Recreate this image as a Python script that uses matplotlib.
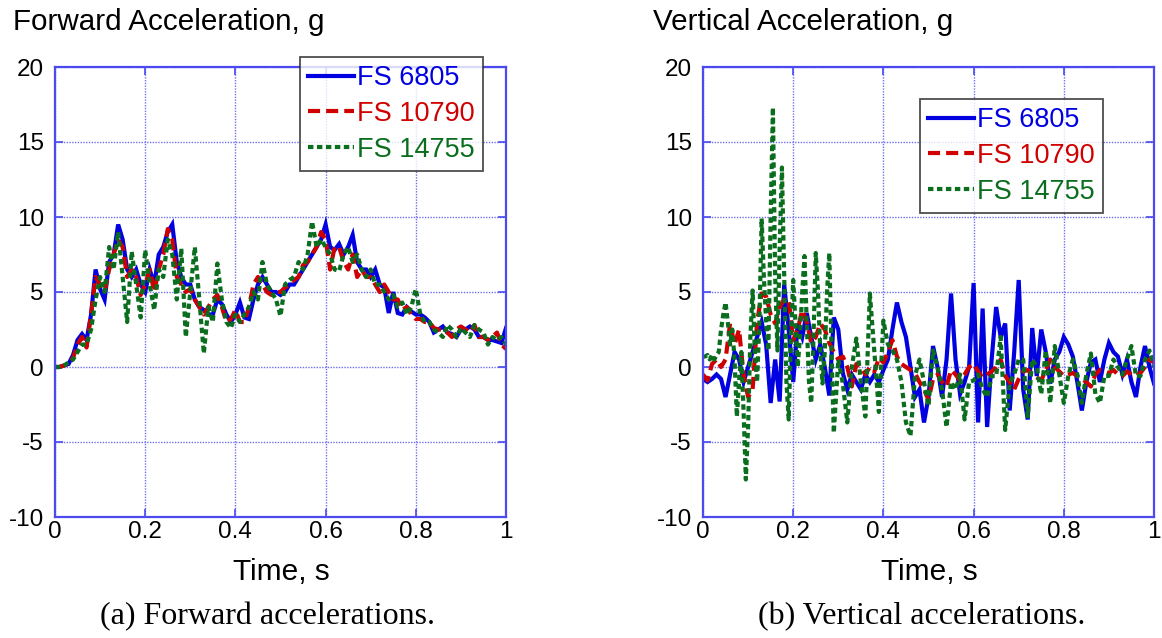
import numpy as np
import matplotlib
matplotlib.use("Agg")
import matplotlib.pyplot as plt

# ---------------- data ----------------
t = np.round(np.arange(0, 1.0001, 0.01), 3)

fwd_6805 = [0, 0, 0.1, 0.2, 0.8, 1.8, 2.2, 1.8, 3.5, 6.5,
            5.2, 4.5, 7.0, 7.5, 9.5, 8.5, 6.5, 6.0, 6.5, 5.5,
            5.0, 6.5, 5.5, 7.5, 8.0, 9.0, 9.5, 7.0, 6.0, 5.5,
            5.5, 4.5, 4.0, 3.8, 3.5, 3.5, 4.5, 4.2, 3.5, 3.0,
            3.5, 4.3, 3.3, 3.2, 4.5, 5.5, 6.0, 5.5, 5.0, 5.0,
            4.8, 5.0, 5.5, 5.5, 6.0, 6.5, 7.0, 7.5, 8.0, 8.5,
            9.5, 8.0, 7.8, 8.2, 7.5, 8.0, 8.8, 7.0, 6.5, 6.5,
            6.0, 6.5, 5.5, 5.3, 3.6, 5.0, 3.6, 3.5, 4.0, 3.7,
            3.5, 3.5, 3.3, 3.0, 2.3, 2.5, 2.7, 2.3, 2.2, 2.0,
            2.5, 2.5, 2.7, 2.5, 2.0, 2.0, 1.8, 1.8, 1.7, 1.6, 2.6]

fwd_10790 = [0, 0, 0.1, 0.2, 0.6, 1.5, 2.0, 1.3, 3.5, 6.0,
             5.5, 5.0, 6.5, 7.5, 8.5, 8.0, 6.0, 6.5, 6.0, 4.8,
             5.5, 6.5, 5.0, 6.5, 7.5, 9.2, 8.5, 6.0, 5.5, 5.0,
             5.2, 4.5, 4.0, 3.5, 4.0, 4.5, 4.8, 4.0, 3.0, 3.2,
             3.8, 3.0, 3.0, 4.0, 5.5, 6.0, 5.5, 5.0, 4.8, 5.0,
             5.0, 5.3, 5.5, 5.8, 6.0, 6.8, 7.0, 7.5, 8.0, 9.0,
             8.5, 6.5, 8.0, 8.0, 7.0, 6.5, 7.5, 6.0, 6.5, 6.0,
             6.0, 5.5, 5.0, 5.5, 5.0, 4.5, 4.5, 3.8, 4.0, 3.5,
             3.2, 3.2, 3.0, 3.0, 2.6, 2.5, 2.5, 2.3, 2.0, 2.5,
             2.7, 2.5, 2.3, 2.8, 2.0, 2.0, 1.8, 2.0, 2.3, 1.5, 1.2]

fwd_14755 = [0, 0, 0.1, 0.3, 0.5, 1.0, 1.5, 1.5, 2.5, 4.5,
             6.0, 5.0, 8.0, 6.5, 9.0, 6.0, 3.0, 7.7, 5.5, 3.3,
             7.8, 5.5, 3.8, 6.5, 6.0, 8.5, 7.5, 4.5, 7.9, 2.0,
             5.0, 8.0, 4.5, 0.9, 4.0, 3.0, 6.9, 4.5, 3.0, 2.6,
             3.5, 3.0, 3.5, 4.0, 5.0, 4.5, 7.0, 5.5, 5.0, 4.5,
             3.4, 5.5, 5.8, 6.0, 7.0, 6.5, 7.5, 9.7, 8.0, 8.5,
             8.0, 7.5, 6.5, 6.4, 7.5, 8.0, 7.0, 7.5, 6.5, 6.0,
             6.5, 5.5, 5.5, 5.0, 4.5, 4.8, 4.0, 4.3, 3.5, 4.0,
             5.2, 3.5, 3.0, 3.0, 2.5, 2.3, 2.0, 2.8, 2.5, 2.0,
             2.6, 2.3, 2.0, 2.8, 2.5, 2.3, 1.5, 2.0, 1.8, 2.0, 1.5]

vert_6805 = [-0.8, -1.0, -0.8, -0.5, -0.8, -2.0, -0.5, 1.0, 0.5, -1.0,
             0.0, 1.0, 2.0, 3.0, 1.5, -2.4, 0.5, -2.3, 5.5, 2.5,
             -1.0, 2.9, 2.0, 3.6, 2.0, 0.5, 1.5, 0.0, -1.9, 3.3,
             2.5, -0.4, -1.5, -0.5, -1.0, -1.5, -0.5, -1.0, -0.5, -1.0,
             -0.2, 0.5, 2.5, 4.3, 3.0, 2.0, 0.0, -2.0, -1.5, -3.7,
             -2.0, 1.4, 0.0, -2.0, 0.5, 4.9, 0.5, -1.8, -1.0, 0.0,
             5.6, -3.7, 3.9, -4.0, 0.5, 4.0, 2.0, 2.9, -2.9, 1.0,
             5.8, -1.5, -3.5, 2.6, -0.6, 2.5, 1.0, -1.1, 0.5, 1.0,
             2.0, 1.5, 0.7, -1.0, -2.9, -1.0, 0.3, 0.5, -1.0, 0.5,
             1.6, 1.0, 0.7, -0.5, 0.5, -1.0, -2.0, 0.0, 1.4, 0.0, -1.1]

vert_10790 = [-0.5, -0.9, 0.2, 0.5, 0.0, 0.5, 2.9, 1.5, 2.5, -0.5,
              -2.0, -1.5, 3.0, 4.9, 4.7, 3.5, 2.9, 4.0, 4.5, 4.5,
              1.8, 2.5, 3.8, 3.0, 1.6, 2.0, 2.9, 2.5, 1.6, 1.0,
              0.5, 0.7, 0.0, -1.3, 0.2, 0.0, -0.5, 0.0, -0.3, 0.6,
              0.3, 1.0, 1.8, 0.7, 0.2, 0.0, -0.2, -0.4, -1.0, -1.5,
              -2.2, -0.8, -0.5, -1.0, -1.3, -0.2, -0.5, -0.9, -0.5, 0.0,
              0.2, -0.3, -0.7, -0.5, -0.3, 0.0, 0.5, -0.6, -1.0, -1.5,
              -0.8, -0.3, -0.2, -0.5, -0.7, -0.9, -0.2, 0.5, 0.0, -0.3,
              -0.6, -0.5, -0.4, -0.6, -0.8, -1.0, -1.3, -0.5, -0.2, -0.3,
              -0.4, -0.2, -0.5, -0.6, -0.3, -0.5, -0.6, -0.4, 0.0, 0.5, 0.3]

# FS 14755 vertical is sampled more finely over the first 0.3 s
t_v14755 = np.round(np.r_[np.arange(0, 0.2999, 0.005), np.arange(0.30, 1.0001, 0.01)], 3)
vert_14755 = [0.7, 0.7, 0.8, 0.5, 0.8, 0.5, 0.8, 1.0, 2.5, 3.5,
              4.3, 3.0, 1.5, 2.5, 0.5, -3.3, -1.0, 1.0, -3.0, -7.5,
              -4.0, 2.0, 5.1, 1.0, -1.0, 3.0, 9.9, 6.0, 3.0, 1.1,
              10.0, 17.3, 6.0, 1.1, 8.0, 13.3, 6.0, -1.0, -3.5, 2.0,
              5.8, 3.0, 0.0, 2.0, 5.0, 7.4, 3.0, -1.0, -2.4, 2.0,
              7.6, 5.0, 1.0, -1.1, 1.0, 5.0, 7.6, 1.0, -4.4, -2.0,
              0.5, -1.1, -3.7, 0.0, 1.9, -1.0, -3.3, 4.9, 1.0, -3.0,
              3.1, 1.5, 1.1, 0.5, -1.0, -3.7, -4.6, -0.6, 0.5, -1.0,
              -2.6, 1.1, 0.0, -1.5, -4.0, -1.0, -1.5, -0.5, -3.5, -1.0,
              -0.9, -0.5, -1.5, -2.0, -0.6, -0.6, 2.0, -4.2, -1.1, -0.5,
              0.5, 0.5, -3.3, 0.5, 0.0, -1.8, 1.1, -2.4, 1.4, -0.5,
              -2.4, -0.6, 0.5, -0.5, -2.4, -0.5, 0.9, -1.8, -2.4, -0.6,
              -0.6, 0.5, 0.0, -0.5, 0.5, 1.4, -0.6, -0.6, 0.5, 1.1, 0.0]

labels = ["FS 6805", "FS 10790", "FS 14755"]
colors = ["#0000e0", "#d00000", "#0a6e1e"]
yticks = [-10, -5, 0, 5, 10, 15, 20]
xticks = [0, 0.2, 0.4, 0.6, 0.8, 1]
xticklabels = ["0", "0.2", "0.4", "0.6", "0.8", "1"]

# ---------------- figure ----------------
W, H = 1162, 638
plt.rcParams["font.family"] = ["Liberation Sans", "DejaVu Sans"]
plt.rcParams["axes.unicode_minus"] = False
fig = plt.figure(figsize=(W / 100, H / 100), dpi=100)

axcol = "#4a4aee"
gridcol = "#7070ee"


def make_ax(left_px):
    ax = fig.add_axes([left_px / W, (H - 517) / H, 451 / W, 450 / H])
    ax.set_xlim(0, 1)
    ax.set_ylim(-10, 20)
    ax.set_xticks(xticks)
    ax.set_xticklabels(xticklabels)
    ax.set_yticks(yticks)
    ax.tick_params(direction="in", length=6, width=1.2, color=axcol,
                   labelsize=17.5, top=True, right=True,
                   labelcolor="black")
    ax.tick_params(axis="y", pad=8)
    ax.tick_params(axis="x", pad=3)
    for s in ax.spines.values():
        s.set_color(axcol)
        s.set_linewidth(1.6)
    ax.grid(True, color=gridcol, linestyle=(0, (1, 1)), linewidth=1.0)
    ax.set_axisbelow(True)
    return ax


def plot_series(ax, tA, a, tB, b, tC, c):
    lw = 3.0
    l1, = ax.plot(tA, a, color=colors[0], lw=lw, solid_joinstyle="miter")
    l2, = ax.plot(tB, b, color=colors[1], lw=lw, linestyle=(0, (2.9, 1.45)),
                  dash_capstyle="butt")
    l3, = ax.plot(tC, c, color=colors[2], lw=lw, linestyle=(0, (1.3, 0.85)),
                  dash_capstyle="butt")
    return [l1, l2, l3]


def add_legend(ax, lines, x0, y0):
    leg = ax.legend(lines, labels, loc="upper left", bbox_to_anchor=(x0, y0),
                    fontsize=19.5, frameon=True, fancybox=False,
                    handlelength=1.7, handletextpad=0.12, borderpad=0.3,
                    labelspacing=0.36, borderaxespad=0)
    leg.get_frame().set_edgecolor("#222222")
    leg.get_frame().set_linewidth(1.3)
    for txt, col in zip(leg.get_texts(), colors):
        txt.set_color(col)
    leg.set_zorder(10)
    return leg


ax1 = make_ax(55)
lines1 = plot_series(ax1, t, fwd_6805, t, fwd_10790, t, fwd_14755)
add_legend(ax1, lines1, (300 - 55) / 451, (517 - 57) / 450)

ax2 = make_ax(703)
lines2 = plot_series(ax2, t, vert_6805, t, vert_10790, t_v14755, vert_14755)
add_legend(ax2, lines2, (920 - 703) / 451, (517 - 99) / 450)

# titles (y-axis labels above the axes)
fig.text(13 / W, 1 - 22 / H, "Forward Acceleration, g", fontsize=21.3,
         ha="left", va="center")
fig.text(653 / W, 1 - 22 / H, "Vertical Acceleration, g", fontsize=21.3,
         ha="left", va="center")

# x labels
fig.text(281 / W, 1 - 572 / H, "Time, s", fontsize=21.5, ha="center", va="center")
fig.text(929 / W, 1 - 572 / H, "Time, s", fontsize=21.5, ha="center", va="center")

# captions
fig.text(268 / W, 1 - 617 / H, "(a) Forward accelerations.", fontsize=23,
         ha="center", va="center", family=["Liberation Serif", "DejaVu Serif"])
fig.text(922 / W, 1 - 617 / H, "(b) Vertical accelerations.", fontsize=23,
         ha="center", va="center", family=["Liberation Serif", "DejaVu Serif"])

fig.savefig("out.png", dpi=100)
